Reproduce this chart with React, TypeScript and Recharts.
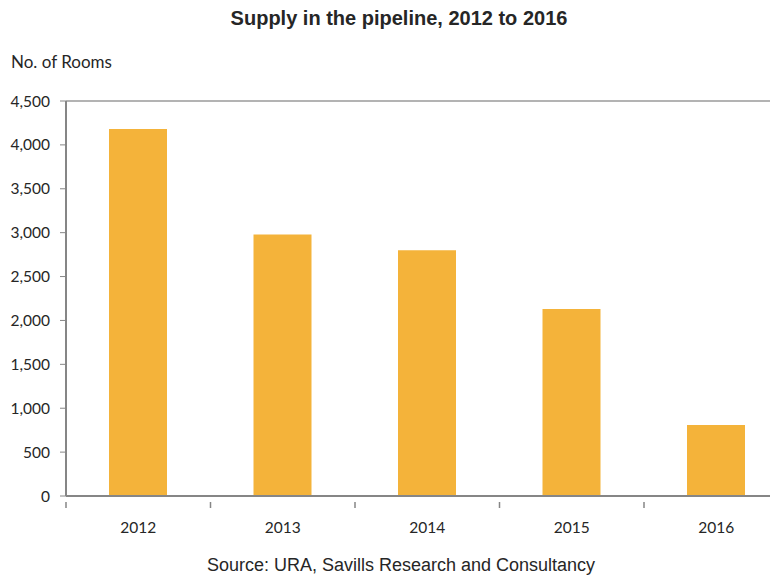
import { BarChart, Bar, XAxis, YAxis, ReferenceLine } from 'recharts';

const years = ['2012', '2013', '2014', '2015', '2016'];
const rooms = [4180, 2980, 2800, 2130, 810];
const yTicks = [0, 500, 1000, 1500, 2000, 2500, 3000, 3500, 4000, 4500];

const data = years.map((year, i) => ({ year, rooms: rooms[i] }));

const axisGray = '#868686';
const textColor = '#262626';

// category label plus the small tick marks sitting on the band edges
function YearTick(props: any) {
  const { x, y, payload, index } = props;
  const half = payload.offset || 0;
  const axisY = y - 20;
  return (
    <g>
      <line x1={x - half} x2={x - half} y1={axisY} y2={axisY + 6} stroke={axisGray} strokeWidth={1.5} />
      {index === years.length - 1 && (
        <line x1={x + half} x2={x + half} y1={axisY} y2={axisY + 6} stroke={axisGray} strokeWidth={1.5} />
      )}
      <text x={x} y={y} dy="0.71em" textAnchor="middle" fill={textColor} fontSize={15.5} fontFamily="Lato, sans-serif">
        {payload.value}
      </text>
    </g>
  );
}

export default function App() {
  return (
    <div style={{ position: 'relative', margin: '-8px 0 0 -8px', width: 778, height: 575, overflow: 'hidden', background: '#fff' }}>
      <div style={{ position: 'absolute', left: 0, width: 798, top: 7, textAlign: 'center', fontFamily: '"Liberation Sans", Arial, sans-serif', fontWeight: 'bold', fontSize: 20, color: textColor }}>
        Supply in the pipeline, 2012 to 2016
      </div>
      <div style={{ position: 'absolute', left: 11, top: 51, fontFamily: 'Lato, sans-serif', fontSize: 17, color: textColor }}>
        No. of Rooms
      </div>
      <BarChart
        width={800}
        height={575}
        data={data}
        margin={{ top: 101, right: 11.5, bottom: 0, left: 0 }}
      >
        <XAxis
          dataKey="year"
          tickLine={false}
          axisLine={{ stroke: axisGray, strokeWidth: 2 }}
          tickMargin={20}
          height={79}
          tick={<YearTick />}
        />
        <YAxis
          domain={[0, 4500]}
          ticks={yTicks}
          width={66}
          interval={0}
          tickFormatter={(v: number) => v.toLocaleString('en-US')}
          axisLine={{ stroke: axisGray, strokeWidth: 2 }}
          tickLine={{ stroke: axisGray, strokeWidth: 1 }}
          tickSize={6}
          tickMargin={10}
          tick={{ fill: textColor, fontSize: 15.5, fontFamily: 'Lato, sans-serif' }}
        />
        <ReferenceLine y={4500} stroke="#9a9a9a" strokeWidth={1.5} />
        <Bar dataKey="rooms" fill="#F4B33A" barSize={58} isAnimationActive={false} />
      </BarChart>
      <div style={{ position: 'absolute', left: 0, width: 802, top: 555, textAlign: 'center', fontFamily: '"Liberation Sans", Arial, sans-serif', fontSize: 18, color: textColor }}>
        Source: URA, Savills Research and Consultancy
      </div>
    </div>
  );
}
